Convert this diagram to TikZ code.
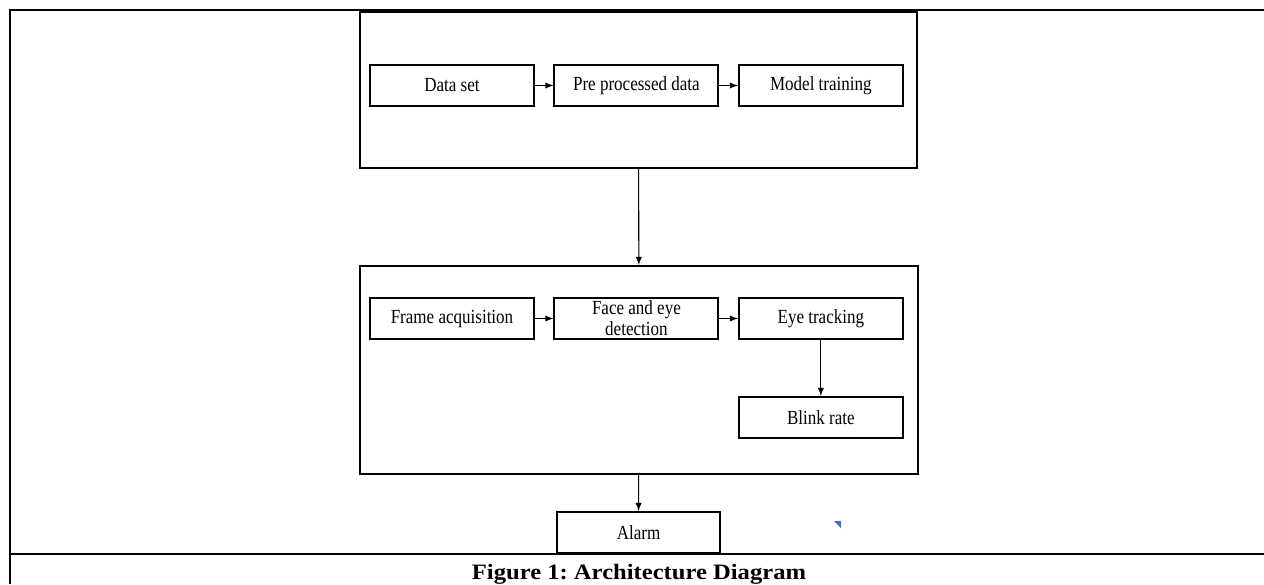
\documentclass[tikz,border=0pt]{standalone}
\usepackage{fontspec}
\setmainfont{Liberation Serif}
\newfontfamily\boxfont{Liberation Serif}[FakeStretch=0.85]
\newfontfamily\capfont{Liberation Serif}[FakeStretch=1.12]
\frenchspacing
\usepackage{tikz}
\usetikzlibrary{arrows, positioning}
\definecolor{markblue}{RGB}{68,114,196}
\tikzstyle{stage} = [rectangle, draw=black, line width=1.1pt, minimum width=3.28cm, minimum height=0.82cm, inner sep=1pt, text centered, align=center, font=\fontsize{11.4}{12}\boxfont]
\tikzstyle{block} = [rectangle, draw=black, line width=1.2pt]
\tikzstyle{arrow} = [->, >=latex, line width=0.6pt]

\begin{document}
\begin{tikzpicture}

\useasboundingbox (0,0) rectangle (25.28,-11.68);

% table frame around the figure
\draw [line width=1.5pt] (25.28,-0.2) -- (0.2,-0.2) -- (0.2,-11.68);
\draw [line width=0.8pt] (0.2,-11.08) -- (25.28,-11.08);

% training stage
\node (train) [block, minimum width=11.14cm, minimum height=3.12cm] at (12.77,-1.8) {};
\node (data) [stage] at (9.04,-1.71) {Data set};
\node (prep) [stage, right=0.37cm of data] {Pre processed data};
\node (model) [stage, right=0.37cm of prep] {Model training};

% detection stage
\node (detect) [block, minimum width=11.16cm, minimum height=4.16cm] at (12.78,-7.4) {};
\node (frame) [stage] at (9.04,-6.37) {Frame acquisition};
\node (face) [stage, right=0.37cm of frame] {Face and eye\\detection};
\node (track) [stage, right=0.37cm of face] {Eye tracking};
\node (blink) [stage, below=1.12cm of track] {Blink rate};

\node (alarm) [stage, minimum width=3.26cm] at (12.77,-10.65) {Alarm};

\draw [arrow] (data) -- (prep);
\draw [arrow] (prep) -- (model);
\draw [arrow] (frame) -- (face);
\draw [arrow] (face) -- (track);
\draw [arrow] (track) -- (blink);
\draw [arrow] (train) -- (detect);
\draw [arrow] (detect) -- (alarm);

% small marker next to the alarm box
\fill [markblue] (16.68,-10.42) -- (16.82,-10.42) -- (16.82,-10.56) -- cycle;

\node (caption) [anchor=base, font=\fontsize{12.5}{14}\capfont\bfseries] at (12.78,-11.58) {Figure 1: Architecture Diagram};

\end{tikzpicture}
\end{document}
